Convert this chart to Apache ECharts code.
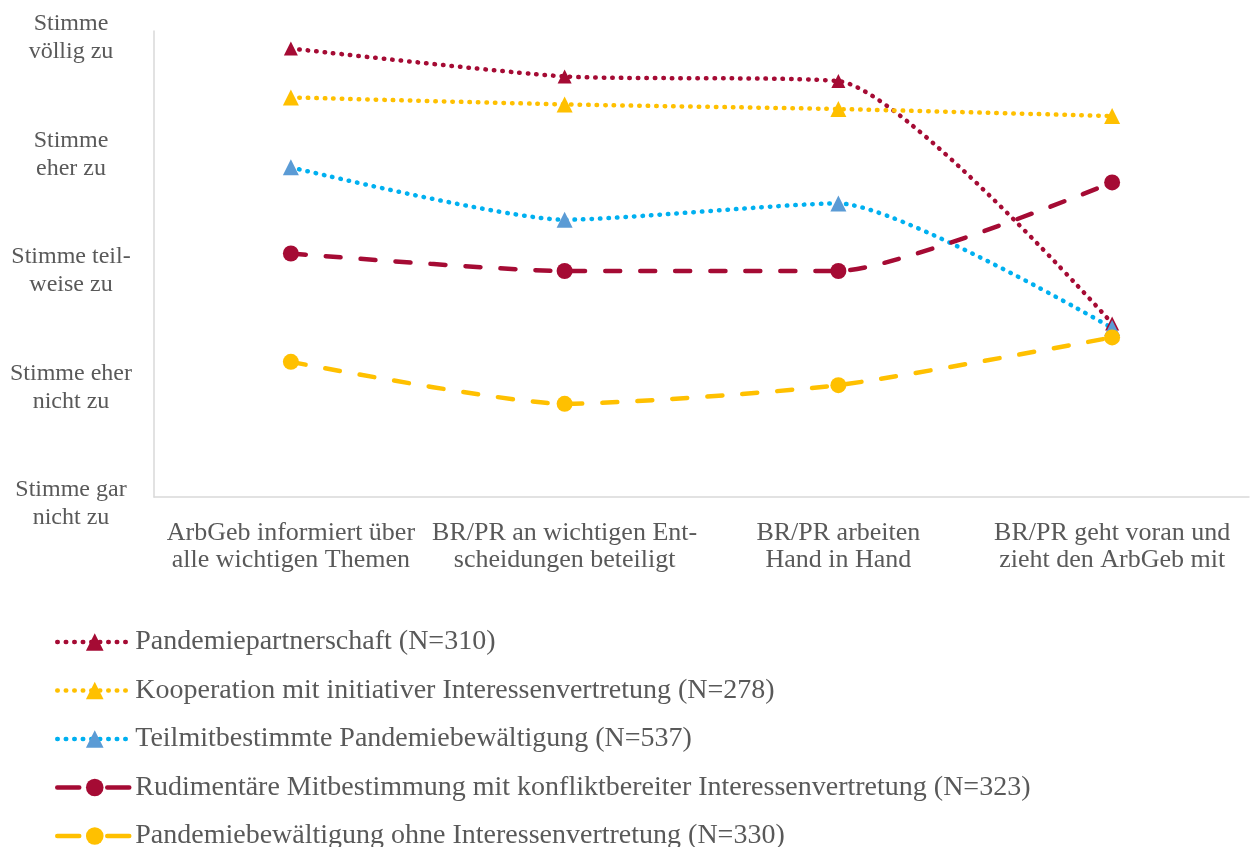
<!DOCTYPE html>
<html><head><meta charset="utf-8">
<script src="https://cdn.jsdelivr.net/npm/echarts@6/dist/echarts.min.js"></script>
<style>html,body{margin:0;padding:0;background:#fff}#c{width:1250px;height:847px}</style>
</head><body><div id="c"></div>
<script>
const categories = ["ArbGeb informiert über\nalle wichtigen Themen","BR/PR an wichtigen Ent-\nscheidungen beteiligt","BR/PR arbeiten\nHand in Hand","BR/PR geht voran und\nzieht den ArbGeb mit"];
const yTickLabels = {1:"Stimme gar\nnicht zu",2:"Stimme eher\nnicht zu",3:"Stimme teil-\nweise zu",4:"Stimme\neher zu",5:"Stimme\nvöllig zu"};
const seriesNames = ["Pandemiepartnerschaft (N=310)","Kooperation mit initiativer Interessenvertretung (N=278)","Teilmitbestimmte Pandemiebewältigung (N=537)","Rudimentäre Mitbestimmung mit konfliktbereiter Interessenvertretung (N=323)","Pandemiebewältigung ohne Interessenvertretung (N=330)"];
const pandemiepartnerschaft = [4.85, 4.61, 4.57, 2.49];
const kooperation = [4.43, 4.37, 4.33, 4.27];
const teilmitbestimmt = [3.83, 3.38, 3.52, 2.45];
const rudimentaer = [3.09, 2.94, 2.94, 3.70];
const ohneIV = [2.16, 1.80, 1.96, 2.37];

const font = '"Liberation Serif", "Times New Roman", serif';
const txt = '#595959';
const dottedDash = [0.5, 8], dashedDash = [15, 20];
function mk(name, data, color, markerColor, type, symbol, size){
  return {name, type:'line', data, smooth:0.2, symbol, symbolSize:size,
    lineStyle:{color, width:4.5, type: type==='dotted'?dottedDash:dashedDash, cap:'round'},
    itemStyle:{color:markerColor}, emphasis:{disabled:true}};
}
const legendData = seriesNames.map((n,i)=> i>=3 ? {name:n, lineStyle:{type:[22,28],width:4.5}} : {name:n});
const chart = echarts.init(document.getElementById('c'));
chart.setOption({
  animation:false,
  grid:{left:154,right:1,top:31,bottom:350,outerBoundsMode:'none',containLabel:false},
  xAxis:{type:'category',data:categories,boundaryGap:true,
    axisLine:{lineStyle:{color:'#D9D9D9',width:1.5}},axisTick:{show:false},
    axisLabel:{fontFamily:font,fontSize:26,color:txt,lineHeight:27,margin:23,interval:0}},
  yAxis:{type:'value',min:1,max:5,interval:1,splitLine:{show:false},
    axisLine:{show:true,lineStyle:{color:'#D9D9D9',width:1.5}},axisTick:{show:false},
    axisLabel:{align:'center',margin:83,
      formatter:v=>yTickLabels[v]?('{s| }\n'+yTickLabels[v].split('\n').map(l=>'{t|'+l+'}').join('\n')):'',
      rich:{s:{fontSize:1,lineHeight:14},t:{fontFamily:font,fontSize:24,lineHeight:28,color:txt,align:'center'}}}},
  legend:{orient:'vertical',left:55,top:628,height:240,padding:0,itemWidth:75,itemHeight:22,itemGap:20.5,
    lineStyle:{width:4.5},
    textStyle:{fontFamily:font,fontSize:28,lineHeight:28,color:txt,padding:[0,0,0,-2]},
    data:legendData},
  series:[
    mk(seriesNames[0],pandemiepartnerschaft,'#A50B34','#A50B34','dotted','triangle',14),
    mk(seriesNames[1],kooperation,'#FFC000','#FFC000','dotted','triangle',16),
    mk(seriesNames[2],teilmitbestimmt,'#00B0F0','#5B9BD5','dotted','triangle',16),
    mk(seriesNames[3],rudimentaer,'#A50B34','#A50B34','dashed','circle',16),
    mk(seriesNames[4],ohneIV,'#FFC000','#FFC000','dashed','circle',16)
  ]
});
</script></body></html>
